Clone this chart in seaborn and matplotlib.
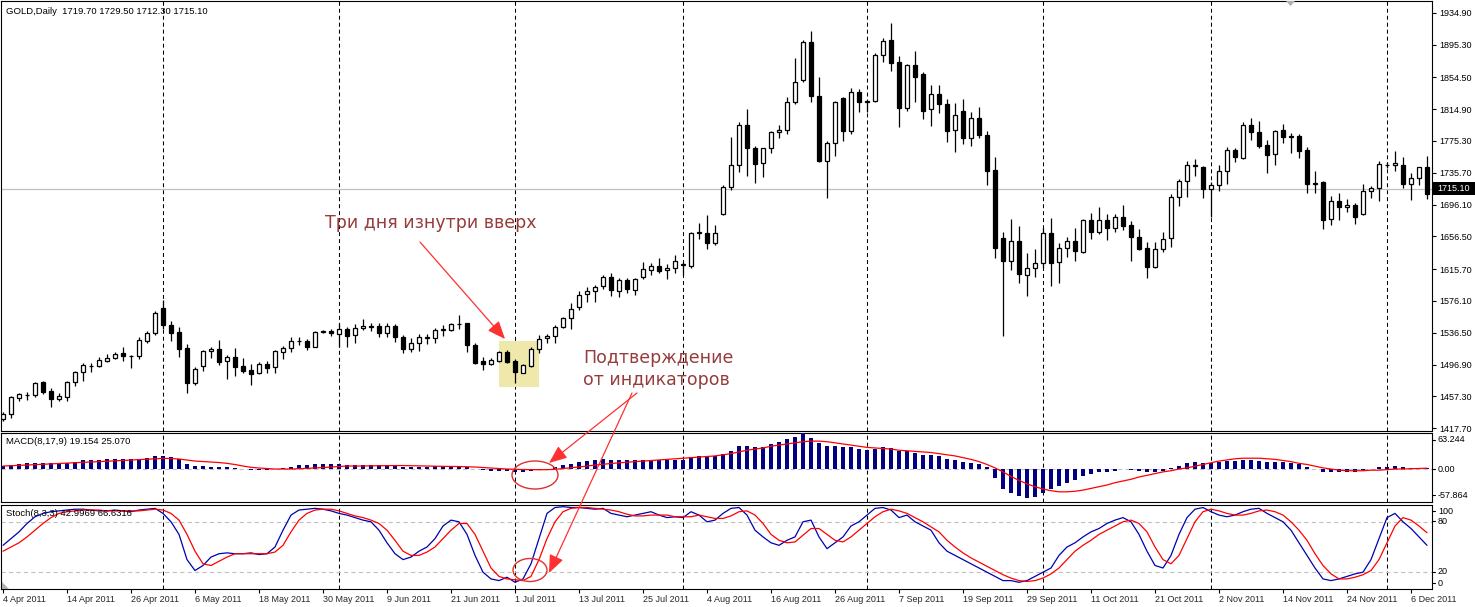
import numpy as np
import pandas as pd
import matplotlib
matplotlib.use("Agg")
import matplotlib.pyplot as plt
import matplotlib.transforms as mtransforms
from matplotlib.patches import Rectangle, Ellipse, FancyArrowPatch, Polygon
import seaborn as sns

sns.set_theme(style="white")
plt.rcParams['font.family'] = ['Liberation Sans', 'DejaVu Sans']

# ---------------- data (GOLD daily, 4 Apr 2011 .. 8 Dec 2011) ----------------
opens = [
    1428.7, 1435.3, 1455.6, 1458.6, 1458.6, 1475.2, 1464.0, 1453.6, 1456.9, 1474.7,
    1487.6, 1495.1, 1494.7, 1501.7, 1504.6, 1511.3, 1507.1, 1507.1, 1526.6, 1535.7,
    1566.9, 1546.5, 1537.4, 1517.1, 1474.3, 1494.7, 1513.3, 1516.2, 1500.9, 1505.9,
    1494.7, 1490.1, 1485.9, 1497.6, 1493.4, 1512.1, 1517.1, 1526.2, 1525.8, 1519.2,
    1537.8, 1538.6, 1535.3, 1540.7, 1533.7, 1542.0, 1543.6, 1545.3, 1536.6, 1545.3,
    1530.8, 1515.8, 1524.1, 1530.4, 1529.5, 1540.3, 1539.9, 1547.8, 1548.2, 1521.2,
    1501.3, 1497.2, 1501.7, 1512.9, 1501.3, 1486.8, 1495.1, 1515.8, 1529.5, 1532.4,
    1543.2, 1554.4, 1568.1, 1584.3, 1588.5, 1594.3, 1605.9, 1588.5, 1602.2, 1589.7,
    1605.5, 1614.6, 1619.2, 1614.6, 1616.7, 1620.8, 1619.6, 1660.7, 1661.1, 1648.6,
    1684.8, 1717.5, 1744.9, 1795.1, 1766.1, 1747.4, 1766.1, 1786.0, 1788.5, 1824.2,
    1850.8, 1898.1, 1830.8, 1750.7, 1772.3, 1828.8, 1788.1, 1835.8, 1824.6, 1824.6,
    1881.9, 1901.0, 1873.2, 1816.7, 1869.4, 1858.2, 1814.7, 1833.3, 1820.9, 1788.5,
    1812.2, 1778.5, 1803.4, 1782.3, 1738.7, 1654.0, 1626.3, 1650.3, 1608.4, 1616.7,
    1622.9, 1660.3, 1624.2, 1641.6, 1651.1, 1637.5, 1676.9, 1662.3, 1676.9, 1666.5,
    1681.1, 1670.7, 1655.3, 1641.6, 1618.8, 1640.4, 1654.1, 1705.1, 1725.0, 1744.9,
    1742.9, 1715.1, 1720.1, 1737.5, 1764.1, 1753.6, 1794.7, 1786.0, 1770.3, 1758.6,
    1788.5, 1781.1, 1781.9, 1764.1, 1722.5, 1724.2, 1677.7, 1700.1, 1692.6, 1695.5,
    1684.8, 1712.5, 1716.3, 1745.4, 1744.9, 1744.9, 1722.1, 1728.8, 1742.4,
]
highs = [
    1438.2, 1457.7, 1461.9, 1463.1, 1475.6, 1476.4, 1467.3, 1461.9, 1476.8, 1489.3,
    1499.2, 1499.2, 1505.9, 1509.6, 1512.1, 1518.3, 1508.8, 1531.6, 1538.2, 1563.1,
    1577.3, 1550.7, 1543.2, 1522.5, 1494.3, 1514.6, 1519.2, 1527.5, 1508.4, 1517.1,
    1504.6, 1497.6, 1500.5, 1501.7, 1515.0, 1520.0, 1531.6, 1531.6, 1529.1, 1538.2,
    1539.9, 1540.7, 1548.2, 1544.1, 1547.0, 1553.2, 1548.2, 1548.2, 1549.0, 1547.4,
    1533.7, 1529.5, 1534.9, 1534.9, 1542.8, 1546.1, 1549.0, 1558.6, 1549.0, 1523.3,
    1505.9, 1504.6, 1513.8, 1515.0, 1503.4, 1497.2, 1519.2, 1533.7, 1534.5, 1545.7,
    1556.5, 1573.1, 1588.0, 1593.9, 1595.9, 1608.0, 1610.5, 1604.2, 1604.2, 1604.2,
    1625.0, 1622.9, 1629.1, 1621.7, 1633.3, 1625.0, 1662.3, 1672.7, 1683.1, 1670.2,
    1720.4, 1780.6, 1798.5, 1815.1, 1769.0, 1766.9, 1787.7, 1795.1, 1830.0, 1879.0,
    1901.0, 1912.6, 1854.9, 1775.2, 1825.0, 1830.4, 1840.8, 1840.0, 1825.0, 1885.2,
    1903.0, 1922.6, 1880.6, 1871.1, 1887.3, 1861.6, 1845.0, 1845.0, 1827.5, 1822.1,
    1827.1, 1811.8, 1817.6, 1787.7, 1755.3, 1661.5, 1678.1, 1669.4, 1635.8, 1640.8,
    1666.5, 1679.8, 1647.8, 1656.1, 1666.5, 1677.7, 1685.2, 1692.6, 1684.3, 1684.0,
    1695.6, 1676.1, 1665.7, 1649.9, 1649.9, 1661.9, 1708.8, 1727.9, 1750.3, 1752.8,
    1744.5, 1723.8, 1745.3, 1767.8, 1766.1, 1798.5, 1803.5, 1800.1, 1776.9, 1789.3,
    1796.0, 1785.6, 1784.4, 1767.8, 1737.9, 1725.8, 1706.8, 1710.1, 1703.0, 1697.6,
    1721.7, 1719.6, 1750.3, 1749.5, 1762.8, 1755.7, 1735.0, 1743.3, 1756.5,
]
lows = [
    1427.0, 1429.9, 1451.5, 1452.8, 1456.1, 1459.8, 1444.5, 1451.1, 1451.9, 1470.6,
    1476.8, 1487.2, 1493.4, 1500.5, 1503.8, 1501.7, 1493.0, 1504.2, 1524.1, 1533.7,
    1540.7, 1526.6, 1505.9, 1461.9, 1471.0, 1488.9, 1505.4, 1495.9, 1478.5, 1483.1,
    1486.8, 1471.8, 1485.1, 1486.8, 1486.8, 1504.2, 1512.9, 1521.2, 1514.6, 1519.2,
    1535.7, 1532.4, 1519.2, 1519.2, 1524.1, 1539.9, 1538.7, 1530.8, 1530.8, 1525.4,
    1510.8, 1512.1, 1514.2, 1522.1, 1523.3, 1532.4, 1538.7, 1540.7, 1512.9, 1497.2,
    1490.1, 1496.3, 1499.6, 1498.4, 1473.5, 1485.9, 1493.4, 1511.7, 1524.1, 1524.1,
    1542.0, 1540.7, 1564.8, 1575.2, 1575.2, 1591.4, 1582.6, 1581.4, 1585.5, 1583.5,
    1603.4, 1608.4, 1610.5, 1603.0, 1610.5, 1608.4, 1616.7, 1652.8, 1640.3, 1645.7,
    1683.1, 1714.2, 1737.0, 1732.1, 1723.3, 1730.8, 1760.7, 1779.4, 1784.4, 1821.3,
    1849.1, 1824.2, 1749.5, 1703.9, 1756.6, 1775.2, 1783.5, 1811.8, 1810.9, 1823.4,
    1874.0, 1862.8, 1793.1, 1812.6, 1824.2, 1802.2, 1794.3, 1809.7, 1773.6, 1761.9,
    1771.1, 1769.4, 1778.5, 1720.4, 1629.1, 1532.9, 1614.6, 1598.9, 1582.7, 1606.3,
    1616.7, 1595.1, 1598.0, 1631.2, 1625.8, 1636.0, 1653.2, 1659.5, 1652.0, 1661.5,
    1664.4, 1626.2, 1639.5, 1604.3, 1616.7, 1636.6, 1643.7, 1694.7, 1705.9, 1732.0,
    1704.7, 1681.1, 1713.0, 1721.7, 1749.5, 1752.4, 1776.9, 1766.1, 1735.8, 1745.4,
    1773.1, 1760.7, 1753.6, 1710.9, 1710.9, 1666.1, 1670.7, 1677.3, 1687.2, 1672.3,
    1683.5, 1703.8, 1700.5, 1742.0, 1738.3, 1717.1, 1701.8, 1720.4, 1703.0,
]
closes = [
    1435.3, 1456.1, 1459.8, 1459.4, 1473.5, 1463.1, 1453.6, 1457.3, 1475.2, 1487.6,
    1496.3, 1494.7, 1502.1, 1504.6, 1510.0, 1507.1, 1507.5, 1527.0, 1535.7, 1561.1,
    1545.7, 1536.6, 1516.7, 1473.5, 1490.9, 1513.8, 1516.2, 1500.5, 1505.9, 1493.4,
    1488.9, 1485.5, 1497.6, 1493.0, 1513.8, 1517.1, 1525.8, 1525.8, 1519.2, 1537.4,
    1538.2, 1536.6, 1540.7, 1532.8, 1542.0, 1544.9, 1544.5, 1536.6, 1544.9, 1530.8,
    1515.8, 1524.1, 1530.8, 1531.2, 1539.9, 1541.1, 1547.4, 1547.0, 1521.2, 1499.2,
    1497.2, 1502.6, 1512.5, 1500.5, 1487.2, 1495.9, 1516.2, 1529.1, 1532.4, 1543.6,
    1554.4, 1566.5, 1583.1, 1588.0, 1593.9, 1605.9, 1589.7, 1602.2, 1590.5, 1603.4,
    1615.4, 1619.2, 1613.8, 1617.1, 1625.4, 1621.7, 1660.2, 1661.5, 1648.6, 1661.1,
    1717.5, 1744.9, 1795.1, 1766.9, 1746.2, 1766.1, 1786.0, 1788.5, 1824.2, 1848.3,
    1898.1, 1830.8, 1750.7, 1772.3, 1823.4, 1788.1, 1835.8, 1824.2, 1824.2, 1881.9,
    1899.3, 1872.8, 1816.7, 1869.9, 1855.3, 1813.0, 1833.3, 1820.9, 1788.1, 1807.6,
    1778.5, 1803.4, 1782.3, 1738.3, 1642.4, 1626.3, 1650.3, 1609.2, 1616.7, 1622.9,
    1660.3, 1623.8, 1641.6, 1651.1, 1638.3, 1676.9, 1662.3, 1676.9, 1666.5, 1680.2,
    1669.8, 1656.1, 1640.8, 1618.8, 1640.4, 1652.8, 1705.1, 1725.0, 1744.9, 1743.7,
    1715.1, 1720.1, 1737.9, 1764.1, 1755.7, 1794.7, 1786.0, 1769.4, 1757.8, 1787.7,
    1780.6, 1780.6, 1763.2, 1721.3, 1721.3, 1677.3, 1700.1, 1692.6, 1695.5, 1681.1,
    1712.5, 1716.3, 1746.2, 1745.8, 1747.4, 1722.1, 1728.8, 1742.4, 1708.8,
]

macd_main = [
    5.3, 7.6, 8.2, 9.9, 11.1, 11.1, 9.9, 9.9, 9.9, 12.3,
    15.8, 15.8, 15.8, 17.0, 17.0, 17.0, 17.0, 18.1, 19.3, 22.8,
    22.8, 20.5, 17.0, 8.8, 5.3, 5.3, 4.1, 4.1, 2.9, 1.8,
    0.0, -1.2, -1.8, -1.8, -0.6, 1.2, 2.9, 7.0, 7.0, 8.8,
    8.8, 8.8, 8.8, 7.0, 7.0, 7.0, 7.0, 7.0, 7.0, 5.3,
    3.5, 3.5, 3.5, 3.5, 5.3, 5.3, 5.3, 5.3, 3.5, 0.0,
    -1.8, -3.5, -3.5, -3.5, -5.3, -5.3, -3.5, -1.8, 0.0, 3.5,
    7.0, 8.8, 12.3, 14.0, 15.8, 17.6, 15.8, 15.8, 15.8, 15.8,
    15.8, 15.8, 15.8, 15.8, 15.8, 15.8, 21.1, 22.8, 22.8, 22.8,
    26.0, 32.0, 40.0, 40.0, 38.0, 38.0, 44.0, 48.0, 52.0, 56.0,
    63.2, 55.0, 45.0, 40.0, 40.0, 38.0, 38.0, 36.0, 34.0, 36.0,
    38.0, 37.0, 32.0, 31.0, 29.0, 25.0, 24.0, 22.0, 18.0, 16.0,
    12.0, 11.0, 9.0, 3.0, -15.0, -35.0, -42.0, -48.0, -51.0, -49.0,
    -42.0, -35.0, -30.0, -24.0, -19.0, -12.0, -9.0, -6.0, -5.0, -3.0,
    0.0, -2.0, -3.0, -5.0, -5.0, -3.0, 2.0, 5.0, 10.0, 12.0,
    11.0, 11.0, 12.0, 14.0, 14.0, 16.0, 16.0, 14.0, 12.0, 12.0,
    12.0, 11.0, 9.0, 4.0, 0.0, -5.0, -5.0, -5.0, -5.0, -5.0,
    -2.0, 0.0, 3.0, 3.0, 5.0, 4.0, 2.0, 2.0, 2.0,
]
macd_signal = [
    5.3, 5.8, 6.5, 7.0, 7.7, 8.4, 9.1, 9.8, 10.5, 11.1,
    11.8, 12.3, 13.0, 13.7, 14.4, 15.1, 15.8, 16.5, 17.2, 17.9,
    18.8, 18.4, 17.6, 15.8, 14.0, 13.2, 12.3, 11.4, 10.0, 7.9,
    5.3, 3.0, 1.8, 0.9, 0.0, 0.0, 0.0, 0.5, 1.2, 1.8,
    2.6, 3.5, 4.4, 5.3, 5.3, 5.3, 5.6, 5.8, 6.0, 6.1,
    6.1, 5.8, 5.4, 5.3, 4.9, 4.7, 4.6, 4.4, 4.0, 3.5,
    2.6, 1.8, 0.9, 0.0, -0.5, -0.9, -1.1, -1.2, -1.1, -0.5,
    0.9, 2.3, 3.5, 5.3, 7.0, 8.4, 9.7, 10.9, 11.9, 12.8,
    14.0, 15.0, 16.0, 17.0, 18.0, 19.0, 20.0, 21.0, 22.0, 23.0,
    25.0, 27.0, 30.0, 33.0, 35.0, 37.0, 40.0, 42.0, 44.0, 46.0,
    48.0, 49.0, 49.0, 48.0, 46.0, 44.0, 42.0, 40.0, 38.0, 37.0,
    36.0, 35.0, 33.0, 32.0, 31.0, 30.0, 29.0, 27.0, 25.0, 23.0,
    20.0, 17.0, 13.0, 8.0, 2.0, -5.0, -13.0, -20.0, -26.0, -31.0,
    -35.0, -38.0, -40.0, -40.0, -39.0, -37.0, -34.0, -31.0, -28.0, -24.0,
    -21.0, -18.0, -14.0, -11.0, -8.0, -5.0, -3.0, 0.0, 2.0, 5.0,
    8.0, 11.0, 14.0, 16.0, 18.0, 19.0, 19.0, 19.0, 18.0, 17.0,
    15.0, 13.0, 10.0, 8.0, 5.0, 2.0, 0.0, -2.0, -3.0, -3.0,
    -3.0, -2.0, -2.0, -1.0, 0.0, 0.0, 0.5, 1.0, 1.5,
]
stoch_main = [
    52, 60, 68, 78, 86, 90, 92, 93, 94, 95,
    95, 94, 93, 93, 94, 93, 92, 94, 95, 96,
    90, 80, 65, 35, 22, 28, 38, 42, 43, 42,
    42, 43, 41, 42, 50, 70, 88, 94, 95, 96,
    95, 93, 90, 88, 85, 82, 80, 70, 55, 42,
    35, 38, 45, 50, 60, 75, 82, 80, 65, 40,
    20, 12, 10, 14, 8, 12, 30, 60, 90, 97,
    98, 97, 97, 96, 95, 96, 90, 88, 86, 88,
    90, 92, 88, 85, 86, 85, 92, 88, 80, 82,
    90, 96, 97, 88, 70, 62, 55, 52, 58, 62,
    80, 82, 62, 48, 55, 62, 75, 80, 88, 96,
    97, 94, 85, 88, 80, 75, 70, 55, 45, 40,
    35, 30, 25, 20, 15, 10, 10, 8, 10, 15,
    20, 25, 40, 50, 55, 62, 68, 72, 78, 82,
    85, 80, 65, 45, 28, 25, 40, 65, 85, 95,
    97, 92, 88, 86, 88, 92, 95, 96, 90, 85,
    80, 70, 55, 40, 25, 12, 10, 12, 15, 18,
    20, 35, 60, 85, 90, 80, 72, 62, 52,
]
stoch_signal = [
    45, 50, 55, 62, 70, 78, 85, 90, 92, 93,
    94, 94, 94, 93, 93, 93, 93, 93, 94, 95,
    94, 90, 82, 65, 45, 30, 28, 33, 38, 42,
    42, 42, 42, 42, 44, 52, 68, 82, 90, 94,
    95, 95, 93, 90, 87, 85, 82, 78, 70, 58,
    45, 40, 40, 44, 50, 60, 70, 78, 78, 65,
    45, 25, 15, 12, 11, 10, 15, 35, 60, 80,
    92, 96, 97, 97, 96, 95, 94, 92, 89, 87,
    87, 88, 88, 88, 86, 86, 86, 88, 86, 84,
    84, 87, 92, 93, 88, 78, 65, 58, 55, 56,
    64, 72, 72, 65, 58, 56, 62, 70, 78, 86,
    92, 95, 93, 90, 85, 80, 74, 68, 58, 50,
    43, 37, 32, 27, 22, 17, 13, 10, 9, 10,
    13, 18, 25, 35, 45, 52, 58, 65, 70, 75,
    80, 82, 78, 68, 50, 35, 30, 40, 60, 80,
    92, 95, 93, 90, 88, 88, 90, 93, 94, 92,
    88, 80, 70, 58, 42, 28, 18, 12, 12, 14,
    17, 22, 35, 55, 75, 85, 82, 75, 67,
]

price_ticks = [1934.90, 1895.30, 1854.50, 1814.90, 1775.30, 1735.70, 1696.10,
               1656.50, 1615.70, 1576.10, 1536.50, 1496.90, 1457.30, 1417.70]
date_labels = ["4 Apr 2011", "14 Apr 2011", "26 Apr 2011", "6 May 2011", "18 May 2011",
               "30 May 2011", "9 Jun 2011", "21 Jun 2011", "1 Jul 2011", "13 Jul 2011",
               "25 Jul 2011", "4 Aug 2011", "16 Aug 2011", "26 Aug 2011", "7 Sep 2011",
               "19 Sep 2011", "29 Sep 2011", "11 Oct 2011", "21 Oct 2011", "2 Nov 2011",
               "14 Nov 2011", "24 Nov 2011", "6 Dec 2011"]
date_label_bars = [0, 8, 16, 24, 32, 40, 48, 56, 64, 72, 80, 88, 96, 104, 112,
                   120, 128, 136, 144, 152, 160, 168, 176]
month_start_bars = [20, 42, 64, 85, 108, 130, 151, 173]
bid_price = 1715.10
macd_max, macd_min = 63.244, -57.864
title_text = "GOLD,Daily  1719.70 1729.50 1712.30 1715.10"
macd_text = "MACD(8,17,9) 19.154 25.070"
stoch_text = "Stoch(8,3,3) 42.9969 66.6316"

# ---------------- figure ----------------
W, H = 1475, 607
fig = plt.figure(figsize=(W / 100, H / 100), dpi=100)
fig.patch.set_facecolor("white")
PX = mtransforms.Affine2D().scale(1.0 / W, -1.0 / H).translate(0, 1) + fig.transFigure

n = len(closes)
idx = np.arange(n)
XL = (-0.25, 178.625)

def panel(x0, y0, x1, y1):
    ax = fig.add_axes([x0 / W, 1 - y1 / H, (x1 - x0) / W, (y1 - y0) / H])
    ax.set_facecolor("white")
    for s in ax.spines.values():
        s.set_color("black")
        s.set_linewidth(0.8)
    ax.set_xlim(*XL)
    ax.set_xticks([])
    ax.yaxis.tick_right()
    ax.tick_params(axis="y", direction="out", length=3, width=0.8, color="black",
                   labelsize=6.5, pad=2, labelcolor="black")
    ax.grid(False)
    return ax

ax_p = panel(1, 1, 1432, 431)
ax_m = panel(1, 433, 1432, 502)
ax_s = panel(1, 505, 1432, 589)

DASH = (0, (3.8, 2.9))
for ax in (ax_p, ax_m, ax_s):
    for b in month_start_bars:
        ax.axvline(b, color="black", lw=0.75, ls=DASH, zorder=1)

# ---- price panel ----
o = np.array(opens); h = np.array(highs); l = np.array(lows); c = np.array(closes)
ax_p.set_ylim(1414.2, 1949.5)
ax_p.axhline(bid_price, color="#c0c0c0", lw=0.9, zorder=1)
ax_p.add_patch(Rectangle((499, 341), 40, 46, transform=PX, facecolor="#eee8aa",
                         edgecolor="none", zorder=1.5))
ax_p.vlines(idx, l, h, colors="black", linewidth=0.9, zorder=3)
body_lo = np.minimum(o, c)
body_h = np.maximum(np.abs(c - o), 0.2)
body_col = ["white" if cc >= oo else "black" for oo, cc in zip(o, c)]
ax_p.bar(idx, body_h, bottom=body_lo, width=0.52, color=body_col, edgecolor="black",
         linewidth=0.9, zorder=4)
ax_p.set_yticks(price_ticks)
ax_p.set_yticklabels([f"{v:.2f}" for v in price_ticks])

# ---- MACD panel ----
ax_m.set_ylim(macd_min, macd_max)
ax_m.axhline(0, color="#c0c0c0", lw=0.8, ls=DASH, zorder=1)
ax_m.bar(idx, macd_main, width=0.42, color="#000080", linewidth=0, zorder=3)
sns.lineplot(x=idx, y=macd_signal, ax=ax_m, color="red", linewidth=0.9, legend=False, zorder=4)
ax_m.set_yticks([])

# ---- Stochastic panel ----
ax_s.set_ylim(0, 100)
for lev in (20, 80):
    ax_s.axhline(lev, color="#c0c0c0", lw=0.8, ls=DASH, zorder=1)
sns.lineplot(x=idx, y=stoch_main, ax=ax_s, color="#0000b0", linewidth=0.9, legend=False, zorder=3)
sns.lineplot(x=idx, y=stoch_signal, ax=ax_s, color="red", linewidth=0.9, legend=False, zorder=4)
ax_s.set_yticks([])
ax_s.set_xticks(date_label_bars)
ax_s.set_xticklabels(date_labels)
ax_s.tick_params(axis="x", direction="out", length=3, width=0.8, color="black",
                 labelsize=6.5, pad=1, bottom=True)
for t in ax_s.get_xticklabels():
    t.set_horizontalalignment("left")
for ax in (ax_p, ax_m, ax_s):
    ax.set_xlabel("")
    ax.set_ylabel("")
    ax.set_xlim(*XL)

# ---- right side labels for indicator panels ----
def right_label(txt, ypix):
    fig.add_artist(plt.Line2D([1432, 1435], [ypix, ypix], transform=PX, color="black", lw=0.8))
    fig.text(1438 / W, 1 - ypix / H, txt, fontsize=6.5, va="center", ha="left", color="black")

right_label("63.244", 440)
right_label("0.00", 469)
right_label("-57.864", 495)
right_label("100", 511)
right_label("80", 521)
right_label("20", 572)
right_label("0", 583)

# bid price box
fig.add_artist(Rectangle((1433, 182), 42, 13, transform=PX, facecolor="black", edgecolor="none"))
fig.text(1437 / W, 1 - 188.5 / H, f"{bid_price:.2f}", fontsize=6.5, va="center", ha="left",
         color="white")

# ---- info texts ----
fig.text(6 / W, 1 - 12 / H, title_text, fontsize=6.8, va="center", ha="left", color="black")
fig.text(6 / W, 1 - 442 / H, macd_text, fontsize=6.8, va="center", ha="left", color="black")
fig.text(6 / W, 1 - 514 / H, stoch_text, fontsize=6.8, va="center", ha="left", color="black")

# shift marker and corner marker
fig.add_artist(Polygon([[1286, 1], [1295, 1], [1290.5, 6]], closed=True, transform=PX,
                       facecolor="#b0b0b0", edgecolor="none"))
fig.add_artist(Polygon([[2, 582], [2, 589], [9, 589]], closed=True, transform=PX,
                       facecolor="#b0b0b0", edgecolor="none"))

# ---- annotations ----
ANN = "#963c3c"
fig.text(325 / W, 1 - 223 / H, "Три дня изнутри вверх", fontsize=12.5, color=ANN,
         va="center", ha="left", family=["DejaVu Sans"])
fig.text(583 / W, 1 - 358 / H, "Подтверждение", fontsize=12.5, color=ANN,
         va="center", ha="left", family=["DejaVu Sans"])
fig.text(583 / W, 1 - 380 / H, "от индикаторов", fontsize=12.5, color=ANN,
         va="center", ha="left", family=["DejaVu Sans"])

ARW = "#ff3030"
for (xa, ya), (xb, yb) in [((420, 242), (505, 339)), ((637, 393), (549, 463)),
                           ((632, 393), (549, 573))]:
    fig.add_artist(FancyArrowPatch((xa, ya), (xb, yb), transform=PX,
                                   arrowstyle="-|>,head_length=11,head_width=4.5",
                                   color=ARW, lw=0.9, mutation_scale=1, shrinkA=0, shrinkB=0))

fig.add_artist(Ellipse((535, 475), 46, 28, transform=PX, facecolor="none", edgecolor="#e03030", lw=1.0))
fig.add_artist(Ellipse((530, 570), 34, 23, transform=PX, facecolor="none", edgecolor="#e03030", lw=1.0))

fig.savefig("out.png", dpi=100, facecolor="white")
